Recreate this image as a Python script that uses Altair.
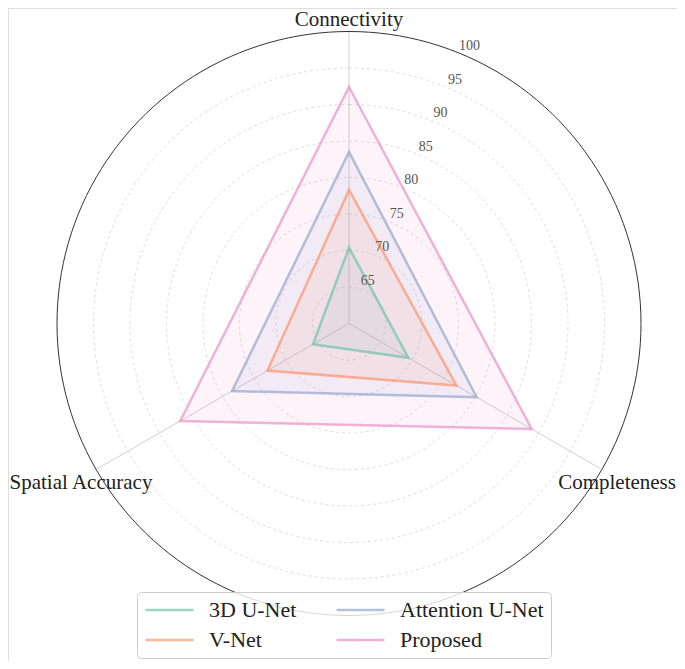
import altair as alt
import pandas as pd
import numpy as np

# ---------------- data ----------------
categories = ["Connectivity", "Completeness", "Spatial Accuracy"]
series_names = ["3D U-Net", "V-Net", "Attention U-Net", "Proposed"]  # plotting order
unet3d = [70.4, 69.4, 65.7]
vnet = [78.3, 77.0, 72.9]
attention = [83.5, 80.2, 78.5]
proposed = [92.4, 88.9, 86.7]
legend_order = ["3D U-Net", "Attention U-Net", "V-Net", "Proposed"]
legend_colors = ["#66c2a5", "#8da0cb", "#fc8d62", "#e78ac3"]
grid_levels = [65, 70, 75, 80, 85, 90, 95]
tick_values = [65, 70, 75, 80, 85, 90, 95, 100]
r_min, r_max = 60, 100

FONT = "Liberation Serif"

# ---------------- tables ----------------
rows = []
for k, (m, vals) in enumerate(zip(series_names, [unet3d, vnet, attention, proposed])):
    for i, (c, v) in enumerate(zip(categories, vals)):
        rows.append({"model": m, "category": c, "idx": i, "value": v, "k": k})
df = pd.DataFrame(rows)

deg = np.arange(0, 361, 2)
grid_df = pd.DataFrame([{"level": lv, "deg": d} for lv in grid_levels for d in deg])
outer_df = pd.DataFrame([{"level": r_max, "deg": d} for d in deg])
spoke_df = pd.DataFrame([{"idx": i, "value": v, "pt": j}
                         for i in range(len(categories)) for j, v in enumerate([r_min, r_max])])
cat_df = pd.DataFrame([{"category": c, "idx": i} for i, c in enumerate(categories)])
tick_df = pd.DataFrame({"level": tick_values, "label": [str(t) for t in tick_values]})

# ---------------- scales ----------------
PX = 7.3          # pixels per unit
CX, CY = 341, 315.5
W, H = 669, 653
xs = alt.Scale(domain=[-CX / PX, (W - CX) / PX], nice=False, zero=False)
ys = alt.Scale(domain=[-(H - CY) / PX, CY / PX], nice=False, zero=False)
X = alt.X("x:Q", scale=xs, axis=None)
Y = alt.Y("y:Q", scale=ys, axis=None)

n = len(categories)


def circ(chart):
    return chart.transform_calculate(
        x=f"(datum.level - {r_min}) * sin(datum.deg * PI / 180)",
        y=f"(datum.level - {r_min}) * cos(datum.deg * PI / 180)",
    )


def poly(chart):
    return chart.transform_calculate(ang=f"datum.idx * 2 * PI / {n}").transform_calculate(
        x=f"(datum.value - {r_min}) * sin(datum.ang)",
        y=f"(datum.value - {r_min}) * cos(datum.ang)")


grid = circ(alt.Chart(grid_df).mark_line(
    color="#d4d4d4", strokeWidth=0.8, strokeDash=[3, 3])).encode(
    x=X, y=Y, detail="level:N", order="deg:Q")

outer = circ(alt.Chart(outer_df).mark_line(color="#333333", strokeWidth=1)).encode(
    x=X, y=Y, order="deg:Q")

spokes = poly(alt.Chart(spoke_df).mark_line(color="#d0d0d0", strokeWidth=1)).encode(
    x=X, y=Y, detail="idx:N", order="pt:Q")

color_scale = alt.Scale(domain=legend_order, range=legend_colors)

fills = poly(alt.Chart(df).mark_line(filled=True, fillOpacity=0.1, interpolate="linear-closed")).encode(
    x=X, y=Y, order="idx:Q",
    color=alt.Color("model:N", scale=color_scale))

lines = poly(alt.Chart(df).mark_line(strokeWidth=2.5, strokeOpacity=0.65,
                                     interpolate="linear-closed")).encode(
    x=X, y=Y, order="idx:Q",
    color=alt.Color("model:N", scale=color_scale,
                    legend=alt.Legend(
                        orient="none", legendX=129, legendY=584, columns=2, title=None,
                        values=series_names,
                        symbolType="stroke", symbolSize=2300, symbolStrokeWidth=2.5,
                        symbolOpacity=0.65, clipHeight=22,
                        labelFont=FONT, labelFontSize=22, labelColor="#222222",
                        labelOffset=14, columnPadding=38, rowPadding=8, padding=7,
                        strokeColor="#cccccc", fillColor="rgba(255,255,255,0.8)",
                        cornerRadius=4)))

cat_labels = alt.Chart(cat_df).transform_calculate(
    ang=f"datum.idx * 2 * PI / {n}",
    rr="datum.idx == 0 ? 41.6 : 42.4",
).transform_calculate(
    x="datum.rr * sin(datum.ang)",
    y="datum.rr * cos(datum.ang) - (datum.idx == 0 ? 0 : 0.6)",
).mark_text(
    font=FONT, fontSize=21, color="#222222", align="center", baseline="middle").encode(
    x=X, y=Y, text="category:N")

tick_labels = alt.Chart(tick_df).mark_text(
    font=FONT, fontSize=14, color="#555555", align="center", baseline="middle").encode(
    x=X, y=Y, text="label:N").transform_calculate(
    x=f"(datum.level - {r_min} + 1.4) * sin(23.5 * PI / 180)",
    y=f"(datum.level - {r_min} + 1.4) * cos(23.5 * PI / 180)")

chart = alt.layer(grid, spokes, fills, lines, outer, tick_labels, cat_labels).properties(
    width=W, height=H, padding=0,
    autosize=alt.AutoSizeParams(type="fit", contains="padding"),
).configure_view(strokeWidth=0, stroke="transparent").configure_legend(
    labelFont=FONT).configure(background="white", font=FONT)

chart.save("out.html", embed_options={"renderer": "svg", "actions": False})
